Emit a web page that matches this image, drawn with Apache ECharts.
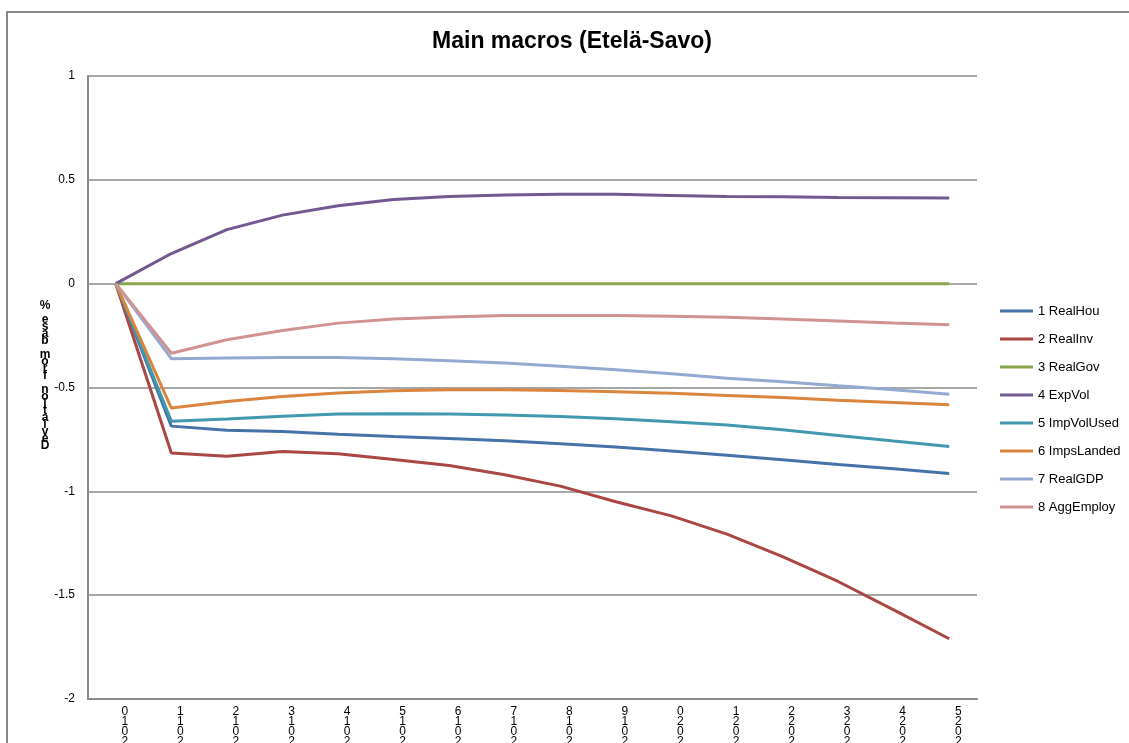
<!DOCTYPE html>
<html>
<head>
<meta charset="utf-8">
<title>Main macros (Etelä-Savo)</title>
<script src="https://cdn.jsdelivr.net/npm/echarts@6/dist/echarts.min.js"></script>
<style>
  html, body { margin: 0; padding: 0; background: #fff; }
  #chart { width: 1129px; height: 743px; }
</style>
</head>
<body>
<div id="chart"></div>
<script>
// Years on the horizontal axis
const years = ['2010','2011','2012','2013','2014','2015','2016','2017',
               '2018','2019','2020','2021','2022','2023','2024','2025'];

// Deviation from base, %
const realHou    = [0, -0.686, -0.706, -0.712, -0.725, -0.736, -0.746, -0.756, -0.771, -0.787, -0.806, -0.826, -0.848, -0.871, -0.891, -0.914];
const realInv    = [0, -0.815, -0.831, -0.808, -0.819, -0.847, -0.876, -0.920, -0.975, -1.050, -1.118, -1.206, -1.314, -1.434, -1.571, -1.710];
const realGov    = [0, 0, 0, 0, 0, 0, 0, 0, 0, 0, 0, 0, 0, 0, 0, 0];
const expVol     = [0, 0.145, 0.260, 0.330, 0.375, 0.405, 0.420, 0.427, 0.430, 0.430, 0.425, 0.420, 0.418, 0.415, 0.414, 0.413];
const impVolUsed = [0, -0.662, -0.652, -0.638, -0.628, -0.626, -0.628, -0.633, -0.640, -0.651, -0.665, -0.681, -0.704, -0.731, -0.758, -0.784];
const impsLanded = [0, -0.599, -0.567, -0.543, -0.527, -0.516, -0.511, -0.511, -0.514, -0.520, -0.528, -0.538, -0.548, -0.561, -0.572, -0.583];
const realGDP    = [0, -0.361, -0.358, -0.355, -0.355, -0.361, -0.371, -0.382, -0.398, -0.414, -0.434, -0.455, -0.472, -0.492, -0.511, -0.532];
const aggEmploy  = [0, -0.335, -0.270, -0.226, -0.190, -0.170, -0.161, -0.153, -0.153, -0.153, -0.157, -0.162, -0.170, -0.180, -0.190, -0.198];

const seriesNames  = ['1 RealHou','2 RealInv','3 RealGov','4 ExpVol','5 ImpVolUsed','6 ImpsLanded','7 RealGDP','8 AggEmploy'];
const seriesData   = [realHou, realInv, realGov, expVol, impVolUsed, impsLanded, realGDP, aggEmploy];
const seriesColors = ['#4572A7','#AA4643','#89A54E','#71588F','#4198AF','#DB843D','#93A9CF','#D19392'];

const titleText = 'Main macros (Etelä-Savo)';
const yTitle = 'Deviation from base %';

// Stack characters top-to-bottom in reverse order
const stackReversed = s => s.split('').reverse().join('\n');

const FONT = '"Liberation Sans", Arial, sans-serif';
const GRID_GRAY = '#8a8a8a';

const chart = echarts.init(document.getElementById('chart'), null, { renderer: 'canvas' });

chart.setOption({
  animation: false,
  backgroundColor: '#fff',
  textStyle: { fontFamily: FONT },
  grid: { left: 88, right: 152, top: 76, bottom: 44, containLabel: false, outerBoundsMode: 'none' },
  legend: {
    orient: 'vertical',
    left: 995,
    top: 299,
    icon: 'rect',
    itemWidth: 33,
    itemHeight: 3,
    itemGap: 14,
    textStyle: { fontFamily: FONT, fontSize: 13, color: '#000', lineHeight: 14 },
    data: seriesNames
  },
  xAxis: {
    type: 'category',
    data: years,
    boundaryGap: true,
    axisLine: { onZero: false, lineStyle: { color: GRID_GRAY, width: 2 } },
    axisTick: { show: false },
    splitLine: { show: false },
    axisLabel: {
      interval: 0,
      margin: 8,
      fontFamily: FONT,
      fontSize: 12,
      lineHeight: 10,
      color: '#000',
      padding: [0, 0, 0, 18],
      formatter: v => stackReversed(v)
    }
  },
  yAxis: {
    type: 'value',
    min: -2,
    max: 1,
    interval: 0.5,
    axisLine: { show: true, lineStyle: { color: GRID_GRAY, width: 2 } },
    axisTick: { show: false },
    splitLine: { show: true, lineStyle: { color: GRID_GRAY, width: 1.5 } },
    axisLabel: { fontFamily: FONT, fontSize: 12, color: '#000', margin: 13 }
  },
  series: seriesNames.map((name, i) => ({
    name: name,
    type: 'line',
    data: seriesData[i],
    symbol: 'none',
    smooth: false,
    color: seriesColors[i],
    lineStyle: { width: 3, color: seriesColors[i] },
    z: 3 + i
  })),
  graphic: [
    {
      type: 'rect',
      silent: true,
      shape: { x: 7, y: 12, width: 1135, height: 745 },
      style: { fill: 'none', stroke: '#878787', lineWidth: 2 },
      z: -1
    },
    {
      type: 'text',
      silent: true,
      x: 572,
      y: 42,
      style: {
        text: titleText,
        fontFamily: FONT,
        fontSize: 23,
        fontWeight: 'bold',
        fill: '#000',
        textAlign: 'center',
        textVerticalAlign: 'middle'
      }
    },
    {
      type: 'text',
      silent: true,
      x: 45,
      y: 302,
      style: {
        text: stackReversed(yTitle),
        fontFamily: FONT,
        fontSize: 12,
        fontWeight: 'bold',
        lineHeight: 7,
        fill: '#000',
        textAlign: 'center',
        textVerticalAlign: 'top'
      }
    }
  ]
});
</script>
</body>
</html>
